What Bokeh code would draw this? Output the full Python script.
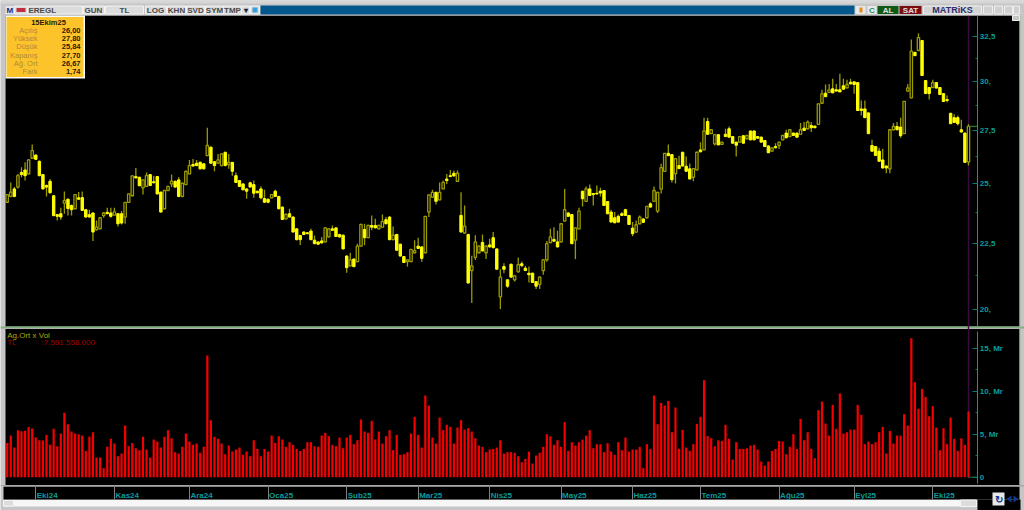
from bokeh.plotting import figure
from bokeh.embed import file_html
from bokeh.resources import INLINE
from bokeh.core.properties import value
from bokeh.models import (Range1d, LogScale, LinearScale, LinearAxis, LogAxis, FixedTicker)

open_ = [24.2,24.45,24.78,24.86,25.52,25.63,25.45,26.17,26.32,26.03,25.42,24.93,25.12,24.48,23.67,23.71,24.16,24.33,24.06,23.92,
 24.39,24.4,23.88,23.67,23.74,23.05,23.08,23.63,23.77,23.74,23.65,23.71,23.71,23.57,24.19,24.48,25.33,25.3,24.83,24.89,
 25.42,25.1,25.33,24.64,23.92,24.71,25.0,25.12,25.18,24.45,24.97,25.45,25.88,25.94,25.98,25.91,26.29,26.69,26.01,25.94,
 25.83,26.45,25.88,25.98,25.37,25.15,25.0,24.78,25.05,24.97,24.68,24.78,24.36,24.33,24.39,24.68,24.45,23.99,23.49,23.71,
 23.57,23.08,22.81,22.95,22.92,22.99,22.62,22.55,22.59,22.55,22.75,23.08,23.12,22.85,
 22.82,21.99,21.61,21.87,21.77,22.38,23.05,22.72,23.22,23.22,23.08,23.15,23.46,23.57,22.64,22.85,22.46,21.97,21.77,21.77,
 22.12,22.38,22.35,22.12,23.78,24.42,24.63,24.3,24.78,25.22,25.37,25.48,25.12,23.64,22.91,22.85,21.43,21.94,22.12,22.53,
 22.12,22.43,22.72,22.27,20.45,21.58,21.08,21.67,21.08,21.38,21.69,21.52,21.33,21.33,21.01,20.91,21.43,21.84,22.52,22.65,
 22.55,22.55,23.4,23.74,23.68,22.62,23.08,24.68,24.24,24.78,24.58,24.59,24.68,24.71,24.23,23.78,23.54,23.6,23.71,23.88,
 23.64,23.11,22.95,23.29,23.49,23.54,24.13,24.24,23.82,24.77,25.57,26.4,26.34,25.46,25.83,26.45,25.8,25.68,25.3,
 25.63,26.56,26.56,27.94,27.34,26.85,27.29,26.82,27.31,27.58,27.2,26.93,26.93,27.24,27.09,27.47,27.47,27.2,27.17,27.01,
 26.75,26.5,26.72,26.77,27.04,27.37,27.2,27.37,27.37,27.31,27.61,27.58,27.74,27.71,27.8,28.86,29.38,29.42,29.61,29.56,
 29.56,29.77,29.66,29.96,29.98,29.94,28.57,28.57,28.37,26.77,26.72,26.5,26.09,25.81,25.68,27.53,27.69,27.66,27.34,29.49,
 29.14,31.6,31.7,32.27,30.05,29.68,29.68,29.94,29.68,29.36,29.05,28.35,28.13,28.13,27.53,27.37,26.0]
high = [24.55,25.07,24.86,25.45,25.75,25.98,26.12,26.82,26.35,26.06,25.45,24.97,25.22,24.5,23.7,23.96,24.67,24.36,24.1,24.56,
 24.64,24.67,23.9,23.88,23.77,23.43,23.56,23.78,23.96,23.96,23.96,23.74,23.82,24.21,24.58,25.38,25.72,25.32,25.2,25.52,
 25.44,25.37,25.35,24.66,24.73,24.92,25.42,25.14,25.3,25.05,25.6,26.09,26.14,26.09,26.02,25.94,27.63,26.72,26.04,26.37,
 26.4,26.47,26.37,26.0,25.52,25.18,25.03,24.8,25.1,25.15,24.7,24.9,24.74,24.36,24.56,24.74,24.48,24.02,23.72,23.92,
 23.6,23.1,22.84,22.98,22.95,23.08,22.81,22.57,22.75,23.15,23.12,23.22,23.15,22.88,
 22.85,22.02,22.12,21.9,22.48,23.29,23.29,23.25,23.64,23.5,23.25,23.68,23.57,23.6,23.18,22.88,22.48,21.99,21.86,22.27,
 22.62,22.72,22.38,22.42,24.54,24.74,24.66,25.07,25.15,25.45,25.63,25.6,25.6,24.63,24.06,22.88,22.0,22.82,22.42,22.85,
 22.42,22.68,22.95,22.3,21.48,21.71,21.1,21.7,21.27,21.93,21.78,21.61,21.58,21.35,21.03,21.21,21.87,22.59,23.08,23.15,
 23.0,23.32,24.78,23.77,23.7,23.14,23.96,24.7,24.89,24.97,24.6,24.93,24.83,24.73,24.25,23.88,23.78,23.68,23.78,23.92,
 23.66,23.36,23.43,23.64,23.51,24.04,24.2,24.89,24.66,25.92,26.42,26.82,26.36,26.17,26.29,26.47,26.25,25.93,25.71,
 26.47,26.93,28.13,28.13,27.56,27.31,27.31,26.95,27.58,27.69,27.22,26.95,27.22,27.26,27.28,27.5,27.5,27.22,27.2,27.03,
 26.77,26.68,26.88,26.95,27.27,27.53,27.55,27.39,27.39,27.86,27.91,27.99,27.91,27.73,28.85,29.56,29.84,29.87,30.14,29.87,
 30.41,30.14,30.09,30.14,30.0,29.96,29.0,29.0,28.39,27.04,26.74,26.66,26.61,25.83,27.55,27.86,27.91,28.13,28.98,29.87,
 32.32,31.62,32.69,32.3,30.07,29.7,30.09,29.97,29.7,29.38,29.26,28.37,28.3,28.24,28.02,27.39,27.8]
low = [24.17,24.42,24.42,24.8,25.3,25.15,25.42,26.14,26.1,25.35,24.75,24.45,24.58,23.6,23.43,23.46,23.71,23.64,23.64,23.9,
 24.3,23.83,23.55,23.55,22.59,23.0,23.06,23.54,23.69,23.54,23.63,23.18,23.26,23.29,24.17,24.46,25.25,24.9,24.53,24.87,
 24.91,25.03,24.54,23.76,23.9,24.69,24.86,24.84,24.42,24.42,24.95,25.43,25.79,25.8,25.65,25.65,26.27,25.92,25.57,25.92,
 25.8,25.8,25.68,25.37,25.05,24.87,24.72,24.35,24.84,24.39,24.59,24.33,24.18,24.16,24.37,24.43,23.9,23.45,23.47,23.55,
 22.93,22.62,22.43,22.83,22.86,22.62,22.46,22.43,22.49,22.53,22.73,23.0,22.75,22.72,
 22.25,21.35,21.59,21.56,21.75,22.36,22.42,22.7,23.02,23.1,23.06,23.13,23.27,22.62,22.62,22.2,21.97,21.72,21.58,21.75,
 22.1,22.27,21.77,22.1,23.57,24.4,24.1,24.28,24.76,25.0,25.3,25.33,25.1,22.93,22.89,20.94,20.23,21.84,22.1,22.17,
 21.87,22.33,22.3,21.46,20.01,21.33,20.78,21.16,21.02,21.36,21.56,21.41,20.98,20.96,20.74,20.74,21.27,21.77,22.5,22.56,
 22.33,22.53,23.38,23.58,22.46,21.87,23.06,24.02,24.22,24.47,24.06,24.54,24.45,24.04,23.69,23.34,23.31,23.34,23.62,23.62,
 23.24,22.78,22.93,23.27,23.33,23.52,23.97,24.22,23.74,24.58,25.55,26.27,25.07,25.02,25.67,25.79,25.55,25.2,25.12,
 25.61,26.45,26.54,27.29,27.32,26.77,26.78,26.8,27.18,27.15,26.86,26.25,26.91,26.86,27.07,27.02,27.02,27.1,26.91,26.7,
 26.4,26.48,26.64,26.6,27.02,27.12,27.18,27.23,27.15,27.29,27.48,27.56,27.42,27.6,27.78,28.84,29.18,29.4,29.38,29.47,
 29.43,29.57,29.64,29.85,29.35,28.47,28.24,28.11,27.32,26.48,26.28,26.01,25.7,25.48,25.48,27.51,27.51,27.14,27.32,29.47,
 29.12,31.39,31.68,30.3,29.34,29.05,29.66,29.63,29.29,28.93,28.91,27.81,27.87,27.74,27.4,25.96,25.84]
close = [24.53,24.64,24.45,25.37,25.42,25.37,26.09,26.53,26.12,25.37,24.78,24.86,24.61,23.63,23.6,23.57,24.27,23.93,23.88,24.53,
 24.33,23.85,23.57,23.57,22.95,23.15,23.54,23.74,23.71,23.6,23.79,23.29,23.32,24.19,24.56,25.36,25.27,24.92,25.18,25.37,
 24.93,25.05,24.56,23.78,24.71,24.89,25.12,24.86,24.45,25.03,25.57,25.83,25.81,25.83,25.68,25.68,26.77,25.94,25.83,26.09,
 26.37,25.83,25.98,25.57,25.07,24.89,24.74,24.68,24.86,24.59,24.61,24.39,24.2,24.2,24.53,24.45,23.92,23.47,23.68,23.57,
 22.95,22.64,22.64,22.85,22.88,22.64,22.48,22.46,22.51,23.12,23.08,23.02,22.77,22.75,
 22.27,21.54,21.84,21.58,22.38,23.26,22.72,23.22,23.15,23.12,23.22,23.38,23.29,22.64,22.82,22.22,21.99,21.74,21.84,22.25,
 22.2,22.29,21.9,23.6,24.52,24.63,24.24,24.63,25.07,25.15,25.33,25.36,25.48,22.95,23.19,20.96,21.61,22.55,22.38,22.19,
 22.38,22.35,22.32,21.48,21.18,21.48,20.84,21.18,21.23,21.66,21.62,21.43,21.27,20.98,20.84,21.18,21.84,22.48,22.75,22.58,
 22.35,23.29,23.88,23.6,22.48,23.12,23.82,24.35,24.78,24.49,24.53,24.56,24.6,24.06,23.71,23.36,23.33,23.36,23.64,23.64,
 23.26,22.88,23.25,23.57,23.35,24.02,23.99,24.71,24.63,25.74,26.4,26.29,25.19,26.15,25.69,25.81,25.57,25.22,25.69,
 26.45,26.47,27.47,27.31,27.53,27.29,26.8,26.93,27.2,27.17,26.88,26.78,27.2,26.88,27.25,27.04,27.04,27.12,26.93,26.72,
 26.43,26.66,26.66,26.93,27.25,27.14,27.53,27.25,27.17,27.53,27.5,27.91,27.63,27.63,28.83,29.35,29.2,29.56,29.4,29.49,
 29.45,29.59,29.84,29.87,29.84,28.49,28.49,28.13,27.34,26.5,26.3,26.03,25.72,25.72,27.53,27.69,27.53,27.24,28.96,29.66,
 31.66,31.41,32.44,30.32,29.36,29.36,29.94,29.65,29.31,28.95,29.0,27.83,27.89,27.83,27.42,25.98,27.7]
# volume, in billions (Mr)
volume = [3.99,4.84,3.45,5.47,5.35,5.39,5.85,5.66,4.61,4.3,4.26,4.92,3.76,5.62,3.6,5.08,7.48,6.16,5.31,5.08,
 5.0,4.84,3.06,4.69,5.23,2.29,2.29,1.05,3.53,4.46,3.91,2.44,2.75,6.01,3.6,3.99,3.37,3.14,4.69,3.22,
 2.29,4.38,4.15,3.45,4.69,5.47,4.53,2.91,2.75,3.53,5.08,4.15,3.76,3.91,2.83,3.53,14.15,6.63,4.69,4.46,
 3.91,2.67,3.68,2.98,3.22,3.45,2.6,2.98,2.44,4.3,3.29,2.44,3.29,2.98,4.84,3.99,4.77,4.38,3.53,4.07,
 3.76,3.29,3.06,3.29,4.07,4.07,3.6,3.53,4.84,5.16,4.77,3.76,3.6,4.61,
 3.37,4.61,4.92,3.84,4.3,6.71,5.31,5.16,6.55,4.38,5.31,3.91,4.77,5.47,3.14,4.92,2.6,2.67,2.91,5.08,
 7.02,4.92,3.45,9.5,8.33,4.61,3.91,6.94,5.47,6.09,5.85,3.91,5.78,6.63,5.54,5.7,5.31,4.53,3.68,3.53,
 2.91,3.22,3.29,3.45,4.3,2.75,2.91,2.91,2.83,2.44,1.74,2.13,2.98,1.59,2.52,2.83,3.53,5.0,4.77,3.76,
 4.3,3.53,6.4,3.06,4.07,3.68,4.07,4.38,4.84,5.47,3.37,3.84,3.84,2.91,3.95,2.98,2.6,4.07,3.14,4.61,
 2.98,3.22,3.22,3.53,1.05,3.84,3.29,9.5,6.16,8.64,8.33,8.88,5.23,8.1,3.29,5.5,
 3.45,3.06,3.84,6.2,7.02,11.28,4.77,4.53,3.6,4.3,4.22,6.09,4.46,2.05,4.07,3.29,3.29,3.37,3.68,3.76,
 3.22,1.82,1.36,1.82,3.06,3.29,4.22,4.15,2.67,3.53,5.0,3.29,6.78,4.3,5.23,3.29,2.21,7.79,8.8,6.24,
 4.84,8.41,5.62,9.73,5.08,5.23,5.54,5.54,8.41,7.25,3.84,4.15,3.84,4.07,5.23,5.85,2.75,5.39,3.91,4.84,
 4.84,7.33,6.01,16.16,11.05,7.95,10.27,9.34,7.09,8.26,5.78,3.14,5.7,3.84,6.94,4.46,3.06,4.53,3.76,7.64]

month_bars = [8,30,51,73,95,115,135,155,175,194,216,237,259]
month_labels = ["Eki24","Kas24","Ara24","Oca25","Şub25","Mar25","Nis25","May25","Haz25","Tem25","Ağu25","Eyl25","Eki25"]
price_ticks = [20,22.5,25,27.5,30,32.5]
price_minor = [21.25,23.75,26.25,28.75,31.25]
price_labels = ["20,","22,5","25,","27,5","30,","32,5"]
vol_ticks = [0,5,10,15]
vol_minor = [2.5,7.5,12.5]
vol_labels = ["0","5, Mr","10, Mr","15, Mr"]
info_date = "15Ekim25"
info_names = ["Açılış","Yüksek","Düşük","Kapanış","Ağ. Ort","Fark"]
info_values = ["26,00","27,80","25,84","27,70","26,67","1,74"]
toolbar_names = ["EREGL","GUN","TL","LOG","KHN","SVD","SYM","TMP"]

W, H = 1024, 510
FONT = value("Liberation Sans")
TEAL = "#0a9c9c"
N = len(close)
X0, XL = 6.7, 968.0
step = (XL - X0) / (N - 1)
xr = Range1d(-X0 / step, (W - X0) / step)
GRAY = "#c6c6c6"
p = figure(width=W, height=H, output_backend="svg", toolbar_location=None,
           x_axis_type=None, y_axis_type=None, x_range=xr, y_range=Range1d(H, 0),
           min_border=0, min_border_left=0, min_border_right=0, min_border_top=0, min_border_bottom=0,
           background_fill_color=GRAY, border_fill_color=GRAY, outline_line_color=None)
p.grid.visible = False

k = 562.0
def prange(y): return 32.5 * 2.718281828 ** (-(y - 36) / k)
p.extra_y_ranges = {"price": Range1d(prange(H), prange(0)),
                    "vol": Range1d((476.7 - H) / 8.6, 476.7 / 8.6)}
p.extra_y_scales = {"price": LogScale(), "vol": LinearScale()}
p.extra_x_ranges = {"px": Range1d(0, W)}

def box(x0, x1, y0, y1, c, line=None):
    p.quad(left=[x0], right=[x1], top=[y0], bottom=[y1], fill_color=c,
           line_color=line, x_range_name="px")
def txt(x, y, t, c, size="8px", align="left", style="bold"):
    p.text(x=[x], y=[y], text=[t], text_color=c, text_font=FONT, text_font_size=size,
           text_font_style=style, text_align=align, text_baseline="middle", x_range_name="px")

# panes
box(5, 1019, 15, 326, "#000000")
box(5, 1019, 328.5, 484.5, "#000000")
box(3, 1019, 486, 499, "#000000")
box(0, 1024, 326, 327.5, "#7fb07f")
box(0, 1024, 327.5, 328.5, "#b0b0b0")
box(3, 1024, 484.5, 486, "#a8a8a8")
box(3, 960, 499.5, 506, "#f6f6f6")
box(3, 13, 500, 505.5, "#dcdcdc", "#f6f6f6")
box(960, 976, 499.5, 506, "#dcdcdc", "#f6f6f6")
box(4.5, 5.5, 15, 326, "#3f8f3f")
box(1019, 1020, 15, 484, "#9fb89f")

# cursor line
last = N - 1
p.segment(x0=[last], x1=[last], y0=[15], y1=[478], line_color="#3c0a40", line_width=1.4)

# candles
up = [i for i in range(N) if close[i] >= open_[i]]
dn = [i for i in range(N) if close[i] < open_[i]]
p.segment(x0=list(range(N)), x1=list(range(N)), y0=low, y1=high, line_color="#9a9a00", line_width=1.3,
          y_range_name="price")
p.vbar(x=dn, width=0.68, top=[open_[i] for i in dn], bottom=[close[i] for i in dn],
       fill_color="#ffff00", line_color="#ffff00", line_width=1, y_range_name="price")
p.vbar(x=up, width=0.66, top=[close[i] for i in up], bottom=[open_[i] for i in up],
       fill_color="#000000", line_color="#9a9a00", line_width=1.3, y_range_name="price")
axis_x = last + 9.3 / step
p.segment(x0=[last], x1=[axis_x], y0=[close[-1]], y1=[close[-1]], line_color="#2f8f2f", y_range_name="price")

# volume bars
p.vbar(x=list(range(N)), width=0.62, top=volume, bottom=0, fill_color="#f40000", line_color=None,
       y_range_name="vol")
p.segment(x0=[last], x1=[axis_x], y0=[0], y1=[0], line_color="#2f6f2f", y_range_name="vol")

# axes
pa = LogAxis(y_range_name="price", fixed_location=axis_x, bounds=(prange(326), prange(15)),
             ticker=FixedTicker(ticks=price_ticks, minor_ticks=price_minor),
             major_label_overrides=dict(zip(price_ticks, price_labels)))
va = LinearAxis(y_range_name="vol", fixed_location=axis_x, bounds=(-0.75, 17.0),
                ticker=FixedTicker(ticks=vol_ticks, minor_ticks=vol_minor),
                major_label_overrides=dict(zip(vol_ticks, vol_labels)))
for a in (pa, va):
    a.axis_line_color = TEAL
    a.major_tick_line_color = "#067a7a"
    a.minor_tick_line_color = "#067a7a"
    a.major_tick_in = 5
    a.major_tick_out = 0
    a.minor_tick_in = 2
    a.minor_tick_out = 0
    a.major_label_standoff = 2
    a.major_label_text_color = TEAL
    a.major_label_text_font = "Liberation Sans"
    a.major_label_text_font_size = "8px"
    a.major_label_text_font_style = "bold"
    p.add_layout(a, "right")

xa = LinearAxis(fixed_location=485, ticker=FixedTicker(ticks=month_bars))
xa.axis_line_color = "#a8a8a8"
xa.major_tick_line_color = "#808080"
xa.minor_tick_line_color = None
xa.major_tick_in = 0
xa.major_tick_out = 14
xa.major_label_text_color = None
xa.major_label_text_font_size = "1px"
p.add_layout(xa, "below")
p.text(x=month_bars, y=[495] * len(month_bars), text=month_labels, x_offset=1, text_color=TEAL,
       text_font=FONT, text_font_size="8px", text_font_style="bold", text_baseline="middle", text_align="left")

# toolbar
TOP, BOT = 5, 14
box(0, W, 0, 15, GRAY)
box(0, W, 0, 3, "#d6d6d6")
cells = [(14, 27), (27, 82), (83, 104), (105, 143), (145, 166), (167, 185), (186, 204), (205, 223), (223, 241), (241, 249), (250, 259)]
for x0, x1 in cells:
    box(x0, x1, TOP + 0.5, BOT - 0.5, "#dcdcdc", "#f2f2f2")
box(5, 13, TOP + 0.5, BOT - 0.5, "#e4e4ee")
txt(6, 9.8, "M", "#1a2a7a", "8px")
box(16, 25, 7.5, 11.5, "#c03040")
box(252, 257, 7, 12, "#3aa0d8")
box(260, 854, TOP, BOT, "#04578c")
xs = [28, 93, 124, 155, 176, 195, 214, 232]
for x, t in zip(xs, toolbar_names):
    txt(x, 9.8, t, "#4a4a4a", "8px", "left" if t == "EREGL" else "center")
txt(245, 9.8, "▾", "#202040", "8px", "center")
box(855, 865, TOP + 0.5, BOT - 0.5, "#e8e8e8")
box(859, 862, 7, 12, "#e08a20")
box(867, 876, TOP + 0.5, BOT - 0.5, "#e8e8e8")
txt(871.5, 9.8, "C", "#1f8f5f", "8px", "center")
box(877, 898, TOP + 0.5, BOT - 0.5, "#0e5a14")
txt(887.5, 9.8, "AL", "#e0e0e0", "8px", "center")
box(899, 921, TOP + 0.5, BOT - 0.5, "#7a0c10")
txt(910, 9.8, "SAT", "#e0e0e0", "8px", "center")
box(923, 981, TOP + 0.5, BOT - 0.5, "#d4d4d4", "#eeeeee")
txt(952, 9.8, "MATRiKS", "#2a3070", "9px", "center")
for x0, x1 in [(983, 992), (994, 1002), (1004, 1012), (1013, 1019)]:
    box(x0, x1, TOP + 0.5, BOT - 0.5, "#d0d0d0", "#eeeeee")
box(1012, 1019, 15, 20, GRAY, "#eeeeee")

# info box
box(5, 84.5, 15, 78, "#fbfbfb")
box(6, 83, 16.5, 76.5, "#fcc42a")
txt(48, 22, info_date, "#2a2000", "7.5px", "center")
for i, (n, v) in enumerate(zip(info_names, info_values)):
    y = 30.3 + i * 8.08
    txt(37, y, n, "#b08a3a", "7.5px", "right", "normal")
    txt(80, y, v, "#2a2000", "7.5px", "right")

# volume legend
txt(6.7, 334.5, "Ag.Ort x Vol", "#a8a800", "8px", "left", "normal")
txt(6.7, 342, "TL", "#a80000", "8px", "left", "normal")
txt(41, 342, ":7.591.558.000", "#a80000", "8px", "left", "normal")

# bottom-right buttons
box(977, 1020, 499, 510, "#000000")
box(992, 1004, 492, 505, "#e8e8e8")
txt(998, 498.5, "↻", "#103a90", "10px", "center")
p.patch(x=[1006, 1011, 1011], y=[498.5, 495, 502], fill_color="#103a90", line_color=None, x_range_name="px")
p.patch(x=[1013, 1013, 1018], y=[495, 502, 498.5], fill_color="#103a90", line_color=None, x_range_name="px")

open("out.html", "w").write(file_html(p, INLINE))
